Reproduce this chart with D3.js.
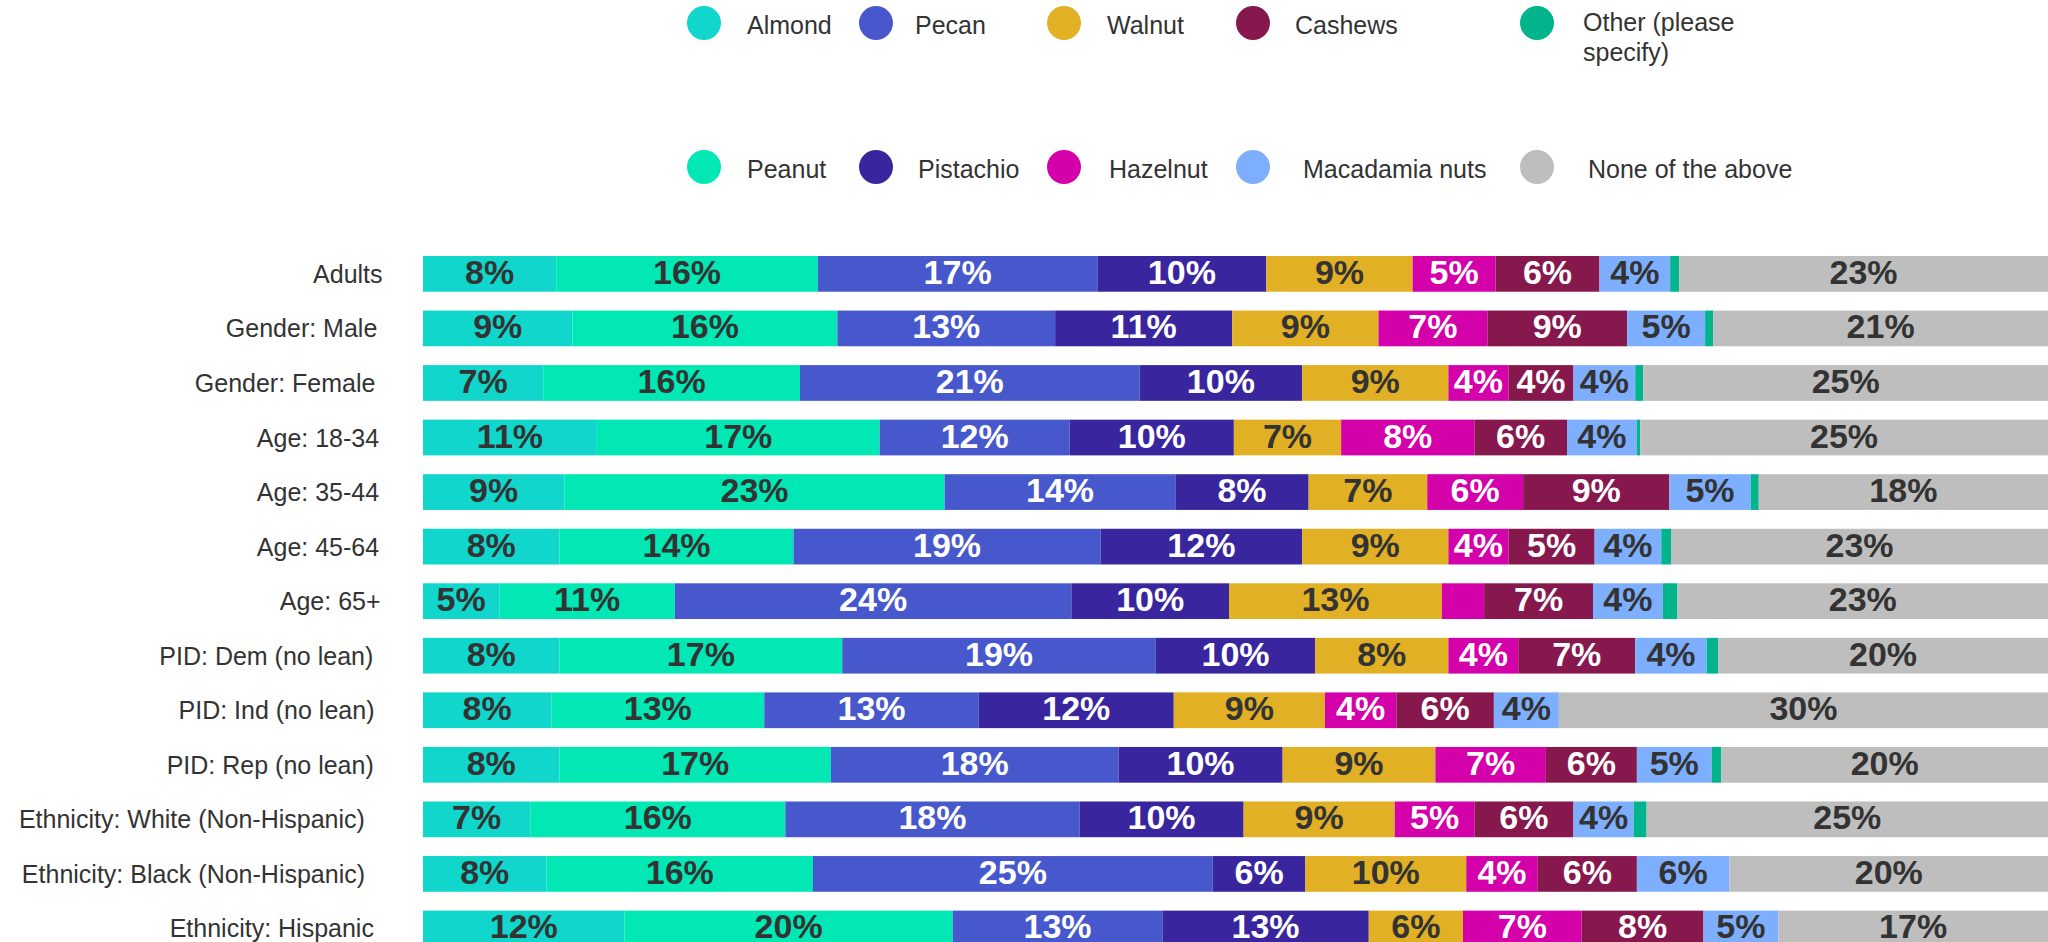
<!DOCTYPE html>
<html>
<head>
<meta charset="utf-8">
<script src="https://cdn.jsdelivr.net/npm/d3@7"></script>
<style>
    html, body { margin: 0; padding: 0; background: #fff; overflow: hidden; }
    svg { display: block; font-family: "Liberation Sans", Arial, Helvetica, sans-serif; }
</style>
</head>
<body>
<div id="chart"></div>
<script>
(function() {
    "use strict";

    // Row labels, top to bottom.
    var categories = ["Adults", "Gender: Male", "Gender: Female", "Age: 18-34", "Age: 35-44",
        "Age: 45-64", "Age: 65+", "PID: Dem (no lean)", "PID: Ind (no lean)", "PID: Rep (no lean)",
        "Ethnicity: White (Non-Hispanic)", "Ethnicity: Black (Non-Hispanic)", "Ethnicity: Hispanic"];

    // Series in stacking order.
    var seriesNames = ["Almond", "Peanut", "Pecan", "Pistachio", "Walnut", "Hazelnut",
        "Cashews", "Macadamia nuts", "Other (please specify)", "None of the above"];
    var seriesColors = ["#10d6cc", "#01e8b5", "#4758cd", "#39269f", "#e2b024", "#d400aa",
        "#86184e", "#7eaefe", "#01b48b", "#bebebe"];

    // Percent of each group, one array per series (same order as categories).
    var almond    = [8.2, 9.2, 7.4, 10.7, 8.7, 8.4, 4.7, 8.4, 7.9, 8.4, 6.6, 7.6, 12.4];
    var peanut    = [16.1, 16.3, 15.8, 17.4, 23.4, 14.4, 10.8, 17.4, 13.1, 16.7, 15.7, 16.4, 20.2];
    var pecan     = [17.2, 13.4, 20.9, 11.7, 14.2, 18.9, 24.4, 19.3, 13.2, 17.7, 18.1, 24.6, 12.9];
    var pistachio = [10.4, 10.9, 10.0, 10.1, 8.2, 12.4, 9.7, 9.8, 12.0, 10.1, 10.1, 5.7, 12.7];
    var walnut    = [9.0, 9.0, 9.0, 6.6, 7.3, 9.0, 13.1, 8.2, 9.3, 9.4, 9.3, 9.9, 5.8];
    var hazelnut  = [5.1, 6.7, 3.7, 8.2, 5.9, 3.7, 2.6, 4.3, 4.4, 6.8, 4.9, 4.4, 7.3];
    var cashews   = [6.4, 8.6, 4.0, 5.7, 9.0, 5.3, 6.7, 7.2, 6.0, 5.6, 6.1, 6.1, 7.5];
    var macadamia = [4.35, 4.8, 3.8, 4.3, 5.0, 4.1, 4.3, 4.4, 4.0, 4.6, 3.7, 5.7, 4.6];
    var other     = [0.55, 0.5, 0.5, 0.2, 0.5, 0.6, 0.9, 0.7, 0, 0.6, 0.8, 0, 0];
    var noneAbove = [22.7, 20.6, 24.9, 25.1, 17.8, 23.2, 22.8, 20.3, 30.1, 20.1, 24.7, 19.6, 16.6];

    var seriesValues = [almond, peanut, pecan, pistachio, walnut, hazelnut,
        cashews, macadamia, other, noneAbove];

    // Series whose labels are drawn in white.
    var whiteLabels = ["Pecan", "Pistachio", "Hazelnut", "Cashews"];

    var w = 2048;
    var h = 942;

    // Build one row object per category for d3.stack.
    var rows = categories.map(function(c, i) {
        var row = { category: c };
        seriesNames.forEach(function(s, j) {
            row[s] = seriesValues[j][i];
        });
        return row;
    });

    var stacked = d3.stack().keys(seriesNames)(rows);

    var xScale = d3.scaleLinear()
        .domain([0, 100])
        .range([423, 2048]);

    var step = 54.55;
    var yScale = d3.scaleBand()
        .domain(categories)
        .range([256, 256 + step * (categories.length - 0.345)])
        .paddingInner(0.345)
        .paddingOuter(0);

    var svg = d3.select("#chart").append("svg")
        .attr("width", w)
        .attr("height", h);

    // Stacked bars.
    var layers = svg.selectAll(".layer")
        .data(stacked)
        .enter()
        .append("g")
            .attr("class", "layer")
            .attr("fill", function(d, i) { return seriesColors[i]; });

    layers.selectAll("rect")
        .data(function(d) { return d; })
        .enter()
        .append("rect")
            .attr("x", function(d) { return xScale(d[0]); })
            .attr("y", function(d) { return yScale(d.data.category); })
            .attr("width", function(d) { return xScale(d[1]) - xScale(d[0]); })
            .attr("height", yScale.bandwidth());

    // Percent labels inside segments big enough to hold them.
    layers.selectAll("text")
        .data(function(d) {
            return d.map(function(p) { p.key = d.key; return p; })
                .filter(function(p) { return p[1] - p[0] >= 3.5; });
        })
        .enter()
        .append("text")
            .attr("x", function(d) { return (xScale(d[0]) + xScale(d[1])) / 2; })
            .attr("y", function(d) { return yScale(d.data.category) + yScale.bandwidth() / 2 + 10; })
            .attr("text-anchor", "middle")
            .attr("font-size", 34)
            .attr("font-weight", "bold")
            .attr("fill", function(d) {
                return whiteLabels.indexOf(d.key) >= 0 ? "#ffffff" : "#333333";
            })
            .text(function(d) { return Math.round(d[1] - d[0]) + "%"; });

    // Category labels on the left; longer labels sit a little further left.
    svg.selectAll(".cat-label")
        .data(categories)
        .enter()
        .append("text")
            .attr("class", "cat-label")
            .attr("y", function(d) { return yScale(d) + yScale.bandwidth() / 2 + 9; })
            .attr("text-anchor", "end")
            .attr("font-size", 25)
            .attr("fill", "#333333")
            .text(function(d) { return d; })
            .attr("x", function() {
                return 387 - 0.064 * this.getComputedTextLength();
            });

    // Legend: two rows, filled column by column.
    var legendCols = [704, 876, 1064, 1253, 1537];
    var legendRows = [23, 167];
    var legendTextOffset = [43, 43, 39, 42, 43, 45, 42, 50, 46, 51];

    var legend = svg.selectAll(".legend")
        .data(seriesNames)
        .enter()
        .append("g")
            .attr("class", "legend")
            .attr("transform", function(d, i) {
                return "translate(" + legendCols[Math.floor(i / 2)] + "," + legendRows[i % 2] + ")";
            });

    legend.append("circle")
        .attr("r", 17)
        .attr("fill", function(d, i) { return seriesColors[i]; });

    legend.append("text")
        .attr("x", function(d, i) { return legendTextOffset[i]; })
        .attr("y", 11)
        .attr("font-size", 25)
        .attr("fill", "#333333")
        .each(function(d, i) {
            var t = d3.select(this);
            if (d === "Other (please specify)") {
                t.attr("y", 8);
                t.append("tspan").attr("x", legendTextOffset[i]).text("Other (please");
                t.append("tspan").attr("x", legendTextOffset[i]).attr("dy", 30).text("specify)");
            } else {
                t.text(d);
            }
        });
})();
</script>
</body>
</html>
